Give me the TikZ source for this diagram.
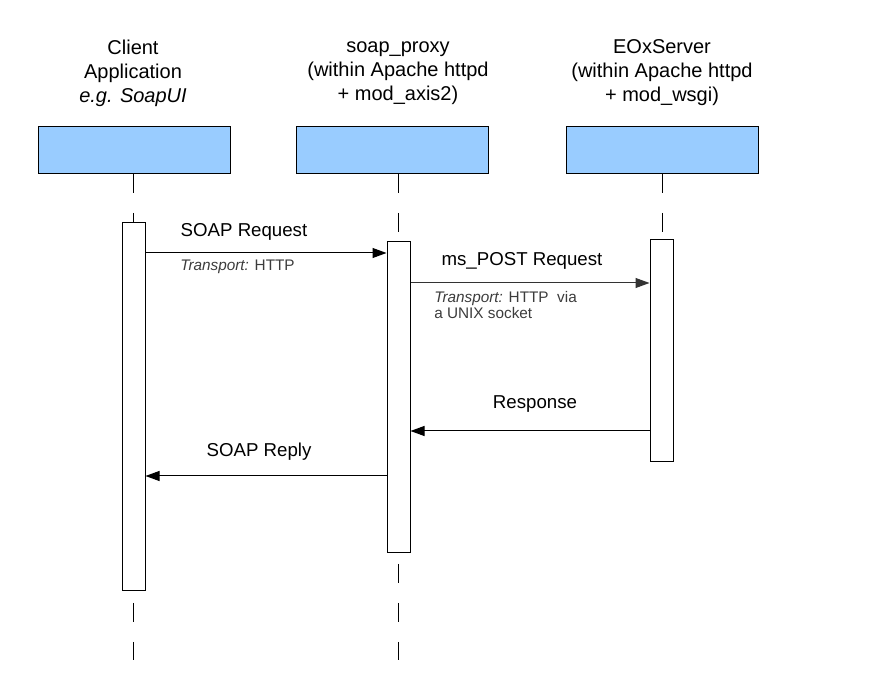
\documentclass[tikz,border=0pt]{standalone}
\usepackage{fontspec}
\setmainfont{Liberation Sans}
\usetikzlibrary{arrows.meta}
\definecolor{headblue}{RGB}{153,204,255}
\definecolor{notegray}{RGB}{60,60,60}
\begin{document}
\begin{tikzpicture}[x=0.75pt,y=-0.75pt,
  headbox/.style={draw=black,line width=0.75pt,fill=headblue,minimum width=144pt,minimum height=35.25pt,inner sep=0pt},
  actbox/.style={draw=black,line width=0.75pt,fill=white,minimum width=17.25pt,inner sep=0pt,anchor=north},
  lifeline/.style={line width=0.75pt,dash pattern=on 14.25pt off 15pt},
  msg/.style={line width=0.75pt,-{Triangle[length=10.5pt,width=7.5pt]}},
  title/.style={align=center,font=\fontsize{15pt}{18pt}\selectfont},
  lbl/.style={font=\fontsize{14pt}{16pt}\selectfont},
  note/.style={font=\fontsize{11.5pt}{12pt}\selectfont,text=notegray,align=left,anchor=west,inner sep=0pt}]
\useasboundingbox (0,0) rectangle (875,680);
% titles
\node[title] (tC) at (133,73) {Client\\Application\\\textit{e.g. SoapUI}};
\node[title] (tP) at (398,73) {soap\_proxy\\(within Apache httpd\\+ mod\_axis2)};
\node[title] (tE) at (662,73) {EOxServer\\(within Apache httpd\\+ mod\_wsgi)};
% header boxes
\node[headbox] (hC) at (134,150.5) {};
\node[headbox] (hP) at (392.5,150.5) {};
\node[headbox] (hE) at (662,150.5) {};
% lifeline ends
\coordinate (sC) at (133,174);
\coordinate (sP) at (398,174);
\coordinate (sE) at (662,174);
\coordinate (eC) at (133,660);
\coordinate (eP) at (398,660);
\coordinate (eE) at (662,461);
\draw[lifeline] (sC) -- (eC);
\draw[lifeline] (sP) -- (eP);
\draw[lifeline] (sE) -- (eE);
% activation boxes
\node[actbox,minimum height=276pt] (aC) at (133.5,222) {};
\node[actbox,minimum height=233.25pt] (aP) at (398.5,241) {};
\node[actbox,minimum height=166.5pt] (aE) at (661.5,239) {};
% messages
\draw[msg] (aC.east |- 0,253) -- (aP.west |- 0,253);
\draw[msg,draw=black!80] (aP.east |- 0,283) -- (aE.west |- 0,283);
\draw[msg] (aE.west |- 0,431) -- (aP.east |- 0,431);
\draw[msg] (aP.west |- 0,476) -- (aC.east |- 0,476);
% labels
\node[lbl] (l1) at (244,232) {SOAP Request};
\node[note] (n1) at (180,267) {\textit{Transport:} HTTP};
\node[lbl] (l2) at (522,261) {ms\_POST Request};
\node[note] (n2) at (434,305) {\textit{Transport:} HTTP\ \ via\\a UNIX socket};
\node[lbl] (l3) at (535,404) {Response};
\node[lbl] (l4) at (259,452) {SOAP Reply};
\end{tikzpicture}
\end{document}
